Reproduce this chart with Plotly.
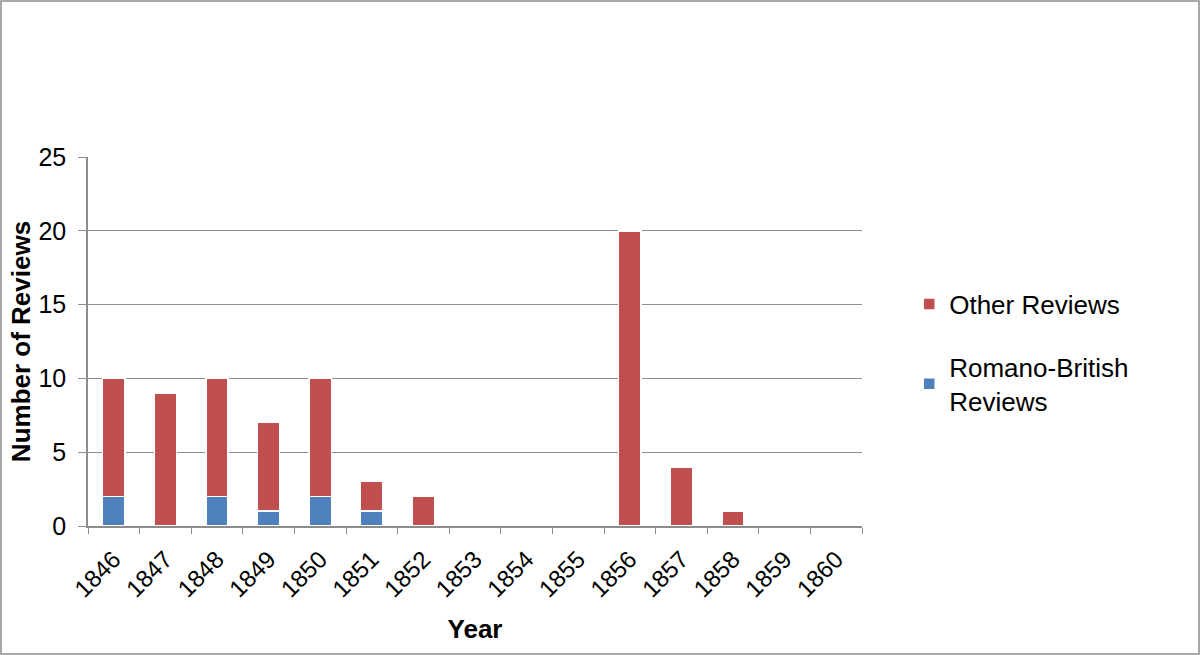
import plotly.graph_objects as go

years = ["1846", "1847", "1848", "1849", "1850", "1851", "1852", "1853",
         "1854", "1855", "1856", "1857", "1858", "1859", "1860"]
romano_british = [2, 0, 2, 1, 2, 1, 0, 0, 0, 0, 0, 0, 0, 0, 0]
other_reviews = [8, 9, 8, 6, 8, 2, 2, 0, 0, 0, 20, 4, 1, 0, 0]
y_ticks = [0, 5, 10, 15, 20, 25]

W, H = 1200, 655
L, R, T, B = 88, 338, 157, 129
pw, ph = W - L - R, H - T - B

fig = go.Figure()
fig.add_trace(go.Bar(
    x=years, y=romano_british, name="Romano-British<br>Reviews",
    marker=dict(color="#4F81BD", line=dict(color="white", width=1.5)),
    legendgroup="a", legendrank=2,
))
fig.add_trace(go.Bar(
    x=years, y=other_reviews, name="Other Reviews",
    marker=dict(color="#C0504D", line=dict(color="white", width=1.5)),
    legendgroup="b", legendrank=1,
))

fig.update_layout(
    width=W, height=H,
    barmode="stack", bargap=0.57,
    paper_bgcolor="white", plot_bgcolor="white",
    margin=dict(l=L, r=R, t=T, b=B, autoexpand=False),
    font=dict(family="Liberation Sans, Arial, sans-serif", color="black"),
    legend=dict(
        x=1.061, y=0.47, xanchor="left", yanchor="middle",
        traceorder="grouped", tracegroupgap=26,
        font=dict(size=26), itemwidth=30,
    ),
    shapes=[dict(
        type="rect", xref="paper", yref="paper",
        x0=-L / pw + 1 / pw, x1=(W - L - 1) / pw,
        y0=-B / ph + 1 / ph, y1=(H - B - 1) / ph,
        line=dict(color="#8C8C8C", width=1.5), fillcolor="rgba(0,0,0,0)",
        layer="below",
    )],
)
fig.update_xaxes(
    type="category", tickangle=-45, tickfont=dict(size=24),
    showline=True, linecolor="#8C8C8C", linewidth=1.5,
    ticks="outside", ticklen=6, tickcolor="#8C8C8C", tickson="boundaries",
    ticklabelstandoff=8,
    title=dict(text="<b>Year</b>", font=dict(size=26), standoff=18),
)
fig.update_yaxes(
    range=[0, 25], tickvals=y_ticks, tickfont=dict(size=25),
    showline=True, linecolor="#8C8C8C", linewidth=1.5,
    ticks="outside", ticklen=8, tickcolor="#8C8C8C",
    showgrid=True, gridcolor="#8C8C8C", gridwidth=1,
    zeroline=False, ticklabelstandoff=7,
    title=dict(text="<b>Number of Reviews</b>", font=dict(size=26), standoff=0),
)

fig.write_html(
    "out.html",
    config={"displayModeBar": False},
    post_script="document.body.style.margin='0';document.body.style.padding='0';",
)
